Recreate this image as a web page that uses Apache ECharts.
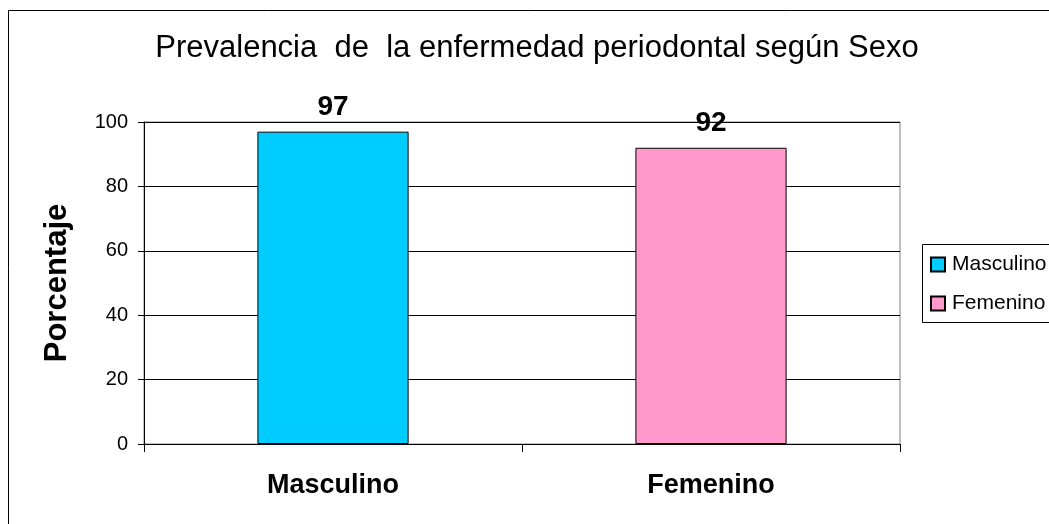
<!DOCTYPE html>
<html>
<head>
<meta charset="utf-8">
<script src="https://cdn.jsdelivr.net/npm/echarts@6/dist/echarts.min.js"></script>
<style>
  html, body { margin: 0; padding: 0; background: #fff; }
  #chart { width: 1049px; height: 524px; }
</style>
</head>
<body>
<div id="chart"></div>
<script>
  // datos
  let categories = ['Masculino', 'Femenino']
  let values = [97, 92]
  let barColors = ['#00CCFF', '#FF99CC']
  let yTicks = [0, 20, 40, 60, 80, 100]

  let chart = echarts.init(document.getElementById('chart'))
  let font = 'Liberation Sans, Arial, sans-serif'

  // una serie por sexo para que la leyenda muestre las dos
  let series = categories.map((name, i) => ({
    name: name,
    type: 'bar',
    stack: 'total',
    barWidth: '40%',
    data: categories.map((c, j) => (j === i ? values[i] : '-')),
    itemStyle: { color: barColors[i], borderColor: '#000', borderWidth: 1 },
    label: {
      show: true,
      position: 'top',
      distance: 10,
      color: '#000',
      fontFamily: font,
      fontWeight: 'bold',
      fontSize: 28
    }
  }))

  chart.setOption({
    animation: false,
    title: {
      text: 'Prevalencia  de  la enfermedad periodontal según Sexo',
      left: 532,
      textAlign: 'center',
      top: 28,
      textStyle: { fontFamily: font, fontWeight: 'normal', fontSize: 31, color: '#000' }
    },
    graphic: [{
      type: 'rect',
      shape: { x: 8.5, y: 10.5, width: 1100, height: 600 },
      style: { fill: 'none', stroke: '#000', lineWidth: 1 },
      silent: true
    }, {
      type: 'rect',
      shape: { x: 922.5, y: 244.5, width: 200, height: 78 },
      style: { fill: '#fff', stroke: '#000', lineWidth: 1 },
      silent: true,
      z: 1
    }],
    legend: {
      orient: 'vertical',
      left: 930,
      top: 254,
      padding: 0,
      itemWidth: 14,
      itemHeight: 14,
      itemGap: 18,
      icon: 'rect',
      z: 5,
      textStyle: { fontFamily: font, fontSize: 21, lineHeight: 21, color: '#000', padding: [0, 0, 0, 2] }
    },
    grid: {
      left: 144,
      right: 149,
      top: 122,
      bottom: 80,
      show: true,
      borderColor: '#808080',
      borderWidth: 1
    },
    xAxis: {
      type: 'category',
      data: categories,
      axisLine: { lineStyle: { color: '#000', width: 1 } },
      axisTick: { show: true, length: 8, lineStyle: { color: '#000' } },
      axisLabel: {
        margin: 28,
        color: '#000',
        fontFamily: font,
        fontWeight: 'bold',
        fontSize: 27
      }
    },
    yAxis: {
      type: 'value',
      min: yTicks[0],
      max: yTicks[yTicks.length - 1],
      interval: 20,
      name: 'Porcentaje',
      nameLocation: 'middle',
      nameGap: 71,
      nameTextStyle: { fontFamily: font, fontWeight: 'bold', fontSize: 31, color: '#000' },
      axisLine: { show: true, lineStyle: { color: '#000', width: 1 } },
      axisTick: { show: true, length: 6, lineStyle: { color: '#000' } },
      axisLabel: { margin: 16, color: '#000', fontFamily: font, fontSize: 20 },
      splitLine: { show: true, lineStyle: { color: '#000', width: 1 } }
    },
    series: series
  })
</script>
</body>
</html>
